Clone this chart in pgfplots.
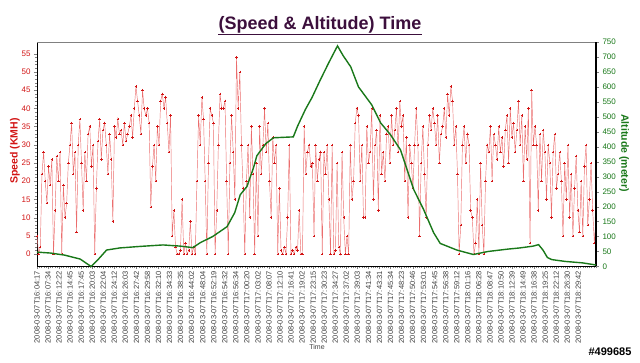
\documentclass[border=0pt]{standalone}
\usepackage{pgfplots}
\pgfplotsset{compat=1.18}
\usepackage{pgfplotstable}
\usepackage{fontspec}
\setmainfont{Liberation Sans}
\definecolor{spd}{RGB}{210,20,20}
\definecolor{spdl}{RGB}{235,110,110}
\definecolor{altc}{RGB}{25,120,25}
\definecolor{ttl}{RGB}{60,15,60}
\pgfplotstableread[row sep=\\]{v\\
5\\0\\2\\22\\28\\20\\14\\24\\19\\26\\0\\12\\27\\20\\28\\
0\\19\\10\\14\\25\\30\\36\\22\\28\\6\\
30\\37\\25\\12\\28\\20\\33\\35\\24\\30\\0\\18\\31\\37\\26\\
34\\36\\30\\22\\33\\26\\9\\35\\32\\37\\33\\34\\30\\36\\31\\33\\35\\38\\32\\
40\\46\\42\\38\\33\\45\\40\\38\\40\\36\\
13\\24\\30\\20\\35\\30\\
42\\44\\40\\43\\36\\28\\38\\
5\\12\\2\\0\\0\\1\\15\\0\\3\\0\\1\\9\\0\\2\\0\\
20\\38\\30\\43\\37\\20\\0\\25\\40\\38\\36\\0\\12\\30\\44\\40\\
40\\42\\20\\0\\25\\38\\28\\15\\54\\40\\50\\30\\18\\
0\\20\\30\\10\\35\\22\\0\\25\\5\\
35\\22\\30\\40\\28\\36\\20\\10\\32\\25\\30\\0\\18\\1\\
0\\2\\0\\10\\30\\0\\1\\0\\2\\1\\12\\0\\0\\
35\\22\\28\\30\\24\\25\\5\\30\\20\\26\\28\\0\\28\\22\\30\\15\\
0\\30\\0\\1\\25\\2\\0\\28\\10\\0\\5\\
0\\30\\15\\20\\36\\40\\38\\20\\30\\10\\
10\\35\\25\\28\\40\\15\\30\\34\\12\\38\\22\\28\\20\\33\\
35\\25\\38\\30\\34\\40\\28\\42\\35\\38\\
20\\32\\10\\30\\25\\18\\30\\
40\\30\\5\\25\\35\\22\\10\\30\\
38\\34\\40\\36\\30\\38\\25\\33\\
35\\40\\32\\44\\38\\46\\42\\30\\35\\22\\
0\\8\\30\\35\\25\\33\\30\\12\\
10\\0\\3\\15\\0\\25\\8\\0\\20\\
30\\28\\35\\20\\33\\30\\26\\35\\28\\32\\24\\34\\
38\\25\\40\\32\\36\\28\\34\\42\\30\\38\\20\\35\\26\\40\\
3\\45\\30\\
35\\30\\12\\33\\20\\34\\28\\15\\30\\25\\10\\28\\33\\18\\22\\
28\\20\\5\\25\\15\\30\\10\\22\\5\\18\\27\\12\\6\\20\\5\\24\\30\\8\\15\\25\\12\\3\\10\\
}\speedtab
\begin{document}
\begin{tikzpicture}[x=1pt,y=1pt]
\useasboundingbox (0,0) rectangle (640,363);
\pgfplotsset{every axis/.append style={scale only axis, width=559pt, height=224.5pt, at={(37pt,96.5pt)}, anchor=south west,
  /pgf/number format/assume math mode=true, tick align=outside, major tick length=3pt, minor tick length=2pt,
  xmin=0, xmax=506, clip=false}}
\begin{axis}[
  ymin=-3.4, ymax=58.2,
  axis x line*=bottom, axis y line*=left,
  x axis line style={line width=1.2pt},
  xtick={0,10,...,490},
  minor xtick={0,2,...,506},
  xticklabels={2008-03-07T16:04:17,2008-03-07T16:07:34,2008-03-07T16:12:22,2008-03-07T16:14:45,2008-03-07T16:17:45,2008-03-07T16:20:03,2008-03-07T16:22:04,2008-03-07T16:24:12,2008-03-07T16:26:03,2008-03-07T16:27:42,2008-03-07T16:29:58,2008-03-07T16:32:10,2008-03-07T16:34:33,2008-03-07T16:38:35,2008-03-07T16:44:02,2008-03-07T16:48:04,2008-03-07T16:52:19,2008-03-07T16:54:32,2008-03-07T16:56:34,2008-03-07T17:00:20,2008-03-07T17:03:02,2008-03-07T17:08:07,2008-03-07T17:12:10,2008-03-07T17:16:41,2008-03-07T17:19:02,2008-03-07T17:23:15,2008-03-07T17:30:23,2008-03-07T17:34:27,2008-03-07T17:37:02,2008-03-07T17:39:03,2008-03-07T17:41:34,2008-03-07T17:43:31,2008-03-07T17:45:34,2008-03-07T17:48:23,2008-03-07T17:50:46,2008-03-07T17:53:01,2008-03-07T17:54:45,2008-03-07T17:56:38,2008-03-07T17:59:12,2008-03-07T18:01:16,2008-03-07T18:06:28,2008-03-07T18:08:47,2008-03-07T18:10:50,2008-03-07T18:12:39,2008-03-07T18:14:49,2008-03-07T18:16:38,2008-03-07T18:19:25,2008-03-07T18:22:12,2008-03-07T18:26:30,2008-03-07T18:29:42},
  x tick label style={rotate=90, anchor=east, font=\fontsize{7.5}{8}\selectfont, text=black!75, inner sep=1.5pt},
  ytick={0,5,...,55},
  minor y tick num=4,
  y tick label style={font=\fontsize{8}{9}\selectfont, text=spd},
]
\addplot[spdl, line width=0.45pt, mark=+, mark size=1.2pt, mark options={spd, line width=0.4pt}]
  table[x expr=\coordindex*1.4926, y index=0] {\speedtab};
\draw[gray, line width=0.8pt] (rel axis cs:0,1) -- (rel axis cs:1,1);
\end{axis}
\begin{axis}[
  ymin=0, ymax=750,
  axis y line*=right, axis x line=none,
  y axis line style={line width=1.2pt},
  ytick={0,50,...,750},
  y tick label style={font=\fontsize{8}{9}\selectfont, text=altc},
]
\addplot[altc, line width=1.4pt] coordinates {
(0,48) (12,45) (25,38) (39,25) (49,0) (55,22) (63,55) (75,62) (93,67) (114,72) (130,68) (141,63) (148,80) (159,100) (172,133) (179,180) (184,240) (190,267) (196,330) (199,370) (207,410) (214,430) (232,433) (236,470) (243,525) (249,565) (256,620) (264,680) (272,737) (277,705) (284,667) (291,600) (297,570) (303,540) (311,480) (320,440) (329,390) (341,257) (350,190) (359,113) (365,77) (380,55) (395,40) (408,50) (426,58) (437,62) (449,68) (454,73) (458,55) (462,30) (466,23) (478,17) (494,12) (506,5)
};
\end{axis}
\node[font=\bfseries\fontsize{18}{20}\selectfont, text=ttl, anchor=base, inner sep=0pt] (T) at (320,333) {(Speed \& Altitude) Time};
\draw[ttl, line width=1.5pt] ([yshift=-4.5pt]T.base west) -- ([yshift=-4.5pt]T.base east);
\node[rotate=90, font=\bfseries\fontsize{10.5}{12}\selectfont, text=spd] at (15,212) {Speed (KMH)};
\node[rotate=-90, font=\bfseries\fontsize{10.5}{12}\selectfont, text=altc] at (624,210) {Altitude (meter)};
\node[font=\fontsize{7}{8}\selectfont, text=black!75] at (317,16) {Time};
\node[font=\bfseries\fontsize{11}{12}\selectfont] at (610,11) {\#499685};
\end{tikzpicture}
\end{document}
